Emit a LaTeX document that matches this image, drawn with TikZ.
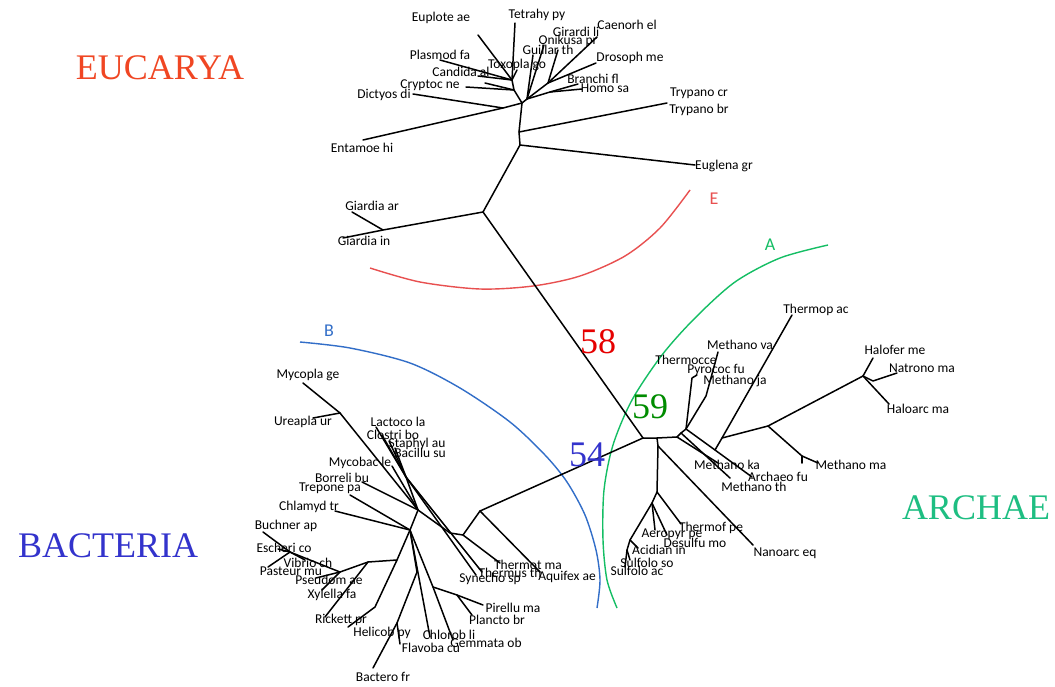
\documentclass[tikz,border=0pt]{standalone}
\usepackage{fontspec}
\newfontfamily\labfont{Carlito}
\newfontfamily\serfont{Liberation Serif}
\definecolor{eucol}{RGB}{240,70,35}
\definecolor{bacol}{RGB}{51,51,204}
\definecolor{arcol}{RGB}{30,190,130}
\definecolor{nA}{RGB}{230,0,0}
\definecolor{nB}{RGB}{0,140,0}
\definecolor{nC}{RGB}{51,51,204}
\definecolor{arcE}{RGB}{232,80,80}
\definecolor{arcA}{RGB}{20,190,100}
\definecolor{arcB}{RGB}{50,110,200}
\begin{document}
\begin{tikzpicture}[x=1pt,y=-1pt,
  br/.style={line width=1.5pt,black,line cap=round,line join=round},
  lab/.style={font=\labfont\fontsize{13.5}{14}\selectfont,inner sep=0pt},
  big/.style={font=\serfont\fontsize{36}{38}\selectfont,inner sep=0pt},
  arcline/.style={line width=1.4pt},
  arclab/.style={font=\labfont\fontsize{18}{19}\selectfont,inner sep=0pt}]
\useasboundingbox (0,0) rectangle (1055,686);
\fill[white] (0,0) rectangle (1055,686);

% ---------- big titles ----------
\node[big,text=eucol] (tEU) at (160,68) {EUCARYA};
\node[big,text=bacol] (tBA) at (108,546) {BACTERIA};
\node[big,text=arcol] (tAR) at (976,508) {ARCHAE};

% ---------- arcs ----------
\draw[arcline,arcE] plot[smooth] coordinates {(370,268) (420,282) (480,289) (533,286) (580,276) (625,256) (660,228) (690,190)};
\draw[arcline,arcA] plot[smooth] coordinates {(828,245) (780,258) (735,282) (695,318) (662,355) (632,400) (613,445) (604,490) (603,540) (607,580) (617,608)};
\draw[arcline,arcB] plot[smooth] coordinates {(300,342) (350,348) (410,363) (460,388) (510,422) (545,455) (567,482) (585,515) (596,550) (600,580) (597,608)};
\node[arclab,text=arcE] (aE) at (714,199) {E};
\node[arclab,text=arcA] (aA) at (770,245) {A};
\node[arclab,text=arcB] (aB) at (329,331) {B};

% ---------- coordinates: Eukarya ----------
\coordinate (C) at (643,438);
\coordinate (ER) at (483,212);
\coordinate (GN) at (383,230);
\coordinate (tGiar) at (352,212);
\coordinate (tGiai) at (343,238);
\coordinate (EU) at (520,145);
\coordinate (tEugl) at (695,165);
\coordinate (TR) at (519,132);
\coordinate (tTryp) at (667,103);
\coordinate (K) at (522,103);
\coordinate (D) at (503,108);
\coordinate (tEnta) at (363,140);
\coordinate (tDict) at (413,94);
\coordinate (O2) at (514,90);
\coordinate (O1) at (512,80);
\coordinate (tTetr) at (515,23);
\coordinate (tEupl) at (478,35);
\coordinate (tPlas) at (440,60);
\coordinate (tCand) at (478,76);
\coordinate (tToxo) at (517,70);
\coordinate (tCryp) at (466,87);
\coordinate (tCry2) at (485,83);
\coordinate (AN) at (527,99);
\coordinate (tGuil) at (533,55);
\coordinate (tOnik) at (544,45);
\coordinate (A0) at (548,83);
\coordinate (tCaen) at (597,37);
\coordinate (tDros) at (596,63);
\coordinate (tGira) at (558,50);
\coordinate (A1) at (550,92);
\coordinate (tBran) at (578,84);
\coordinate (tHomo) at (582,89);

% ---------- coordinates: Archaea ----------
\coordinate (AR) at (657,438);
\coordinate (AR2) at (658,446);
\coordinate (tNano) at (753,545);
\coordinate (CR0) at (657,492);
\coordinate (tTherf) at (681,524);
\coordinate (CR1) at (652,503);
\coordinate (tAero) at (655,530);
\coordinate (tDesu) at (667,535);
\coordinate (CR2) at (630,540);
\coordinate (tAcid) at (638,548);
\coordinate (CR3) at (627,550);
\coordinate (tSuso) at (630,560);
\coordinate (tSuac) at (625,567);
\coordinate (E0) at (677,437);
\coordinate (E1) at (681,433);
\coordinate (E2) at (686,429);
\coordinate (tMka) at (718,463);
\coordinate (tMth) at (730,478);
\coordinate (TP) at (715,450);
\coordinate (tArch) at (752,477);
\coordinate (T1) at (722,438);
\coordinate (tThac) at (792,315);
\coordinate (H0) at (768,426);
\coordinate (HA) at (863,376);
\coordinate (tHalo) at (873,358);
\coordinate (NA) at (873,381);
\coordinate (tNatr) at (897,373);
\coordinate (tHarc) at (889,404);
\coordinate (MM) at (802,456);
\coordinate (tMma) at (818,463);
\coordinate (MMs) at (802,463);
\coordinate (TCn) at (692,378);
\coordinate (tPyro) at (697,375);
\coordinate (MJ1) at (706,396);
\coordinate (tMva) at (718,352);

% ---------- coordinates: Bacteria ----------
\coordinate (B0) at (480,511);
\coordinate (tAqui) at (540,572);
\coordinate (B1) at (463,535);
\coordinate (tThmt) at (500,563);
\coordinate (B2) at (450,533);
\coordinate (H) at (418,510);
\coordinate (F0) at (406,477);
\coordinate (tThus) at (482,572);
\coordinate (tSyne) at (476,575);
\coordinate (tLact) at (376,427);
\coordinate (tClos) at (382,435);
\coordinate (tStap) at (389,441);
\coordinate (tBaci) at (395,448);
\coordinate (M0) at (340,413);
\coordinate (tMyco) at (303,383);
\coordinate (tUrea) at (313,418);
\coordinate (tMycb) at (392,466);
\coordinate (tBorr) at (362,482);
\coordinate (H2) at (410,530);
\coordinate (tTrep) at (350,495);
\coordinate (tChla) at (335,511);
\coordinate (P0) at (397,560);
\coordinate (P1) at (368,562);
\coordinate (G0) at (340,572);
\coordinate (G1) at (290,552);
\coordinate (tBuch) at (263,532);
\coordinate (tEsch) at (278,549);
\coordinate (tPast) at (268,567);
\coordinate (tVibr) at (305,560);
\coordinate (tPseu) at (316,578);
\coordinate (tXyle) at (322,590);
\coordinate (tRick) at (325,617);
\coordinate (HE) at (375,607);
\coordinate (tHeli) at (348,627);
\coordinate (Q0) at (417,572);
\coordinate (Q1) at (397,623);
\coordinate (tBact) at (373,668);
\coordinate (tFlav) at (400,644);
\coordinate (tChlo) at (430,637);
\coordinate (PL0) at (433,587);
\coordinate (tGemm) at (453,640);
\coordinate (PL1) at (457,595);
\coordinate (tPire) at (483,605);
\coordinate (tPlan) at (472,615);

% ---------- branches ----------
\draw[br] (C) -- (ER);
\draw[br] (C) -- (B0);
\draw[br] (C) -- (AR) -- (E0);
% Eukarya
\draw[br] (ER) -- (GN) -- (tGiar);
\draw[br] (GN) -- (tGiai);
\draw[br] (ER) -- (EU) -- (tEugl);
\draw[br] (EU) -- (TR) -- (tTryp);
\draw[br] (TR) -- (K);
\draw[br] (K) -- (D) -- (tEnta);
\draw[br] (D) -- (tDict);
\draw[br] (K) -- (O2) -- (O1);
\draw[br] (O2) -- (tCryp);
\draw[br] (O2) -- (tCry2);
\draw[br] (O1) -- (tTetr);
\draw[br] (O1) -- (tEupl);
\draw[br] (O1) -- (tPlas);
\draw[br] (O1) -- (tCand);
\draw[br] (O1) -- (tToxo);
\draw[br] (K) -- (AN) -- (tGuil);
\draw[br] (AN) -- (tOnik);
\draw[br] (AN) -- (A0) -- (tCaen);
\draw[br] (A0) -- (tDros);
\draw[br] (A0) -- (tGira);
\draw[br] (AN) -- (A1) -- (tBran);
\draw[br] (A1) -- (tHomo);
% Archaea
\draw[br] (AR) -- (AR2) -- (CR0);
\draw[br] (AR2) -- (tNano);
\draw[br] (CR0) -- (tTherf);
\draw[br] (CR0) -- (CR1) -- (tAero);
\draw[br] (CR1) -- (tDesu);
\draw[br] (CR1) -- (CR2) -- (tAcid);
\draw[br] (CR2) -- (CR3) -- (tSuso);
\draw[br] (CR3) -- (tSuac);
\draw[br] (E0) -- (E1) -- (E2);
\draw[br] (E0) -- (tMka);
\draw[br] (E1) -- (tMth);
\draw[br] (E2) -- (TP) -- (tArch);
\draw[br] (TP) -- (T1) -- (tThac);
\draw[br] (T1) -- (H0) -- (HA) -- (tHalo);
\draw[br] (HA) -- (NA) -- (tNatr);
\draw[br] (HA) -- (tHarc);
\draw[br] (H0) -- (MM) -- (tMma);
\draw[br] (MM) -- (MMs);
\draw[br] (E2) -- (TCn) -- (tPyro);
\draw[br] (E2) -- (MJ1) -- (tMva);
% Bacteria
\draw[br] (B0) -- (tAqui);
\draw[br] (B0) -- (B1) -- (tThmt);
\draw[br] (B1) -- (B2) -- (H);
\draw[br] (H) -- (F0);
\draw[br] (F0) -- (tThus);
\draw[br] (F0) -- (tSyne);
\draw[br] (F0) -- (tLact);
\draw[br] (F0) -- (tClos);
\draw[br] (F0) -- (tStap);
\draw[br] (F0) -- (tBaci);
\draw[br] (H) -- (M0) -- (tMyco);
\draw[br] (M0) -- (tUrea);
\draw[br] (H) -- (tMycb);
\draw[br] (H) -- (tBorr);
\draw[br] (H) -- (H2);
\draw[br] (H2) -- (tTrep);
\draw[br] (H2) -- (tChla);
\draw[br] (H2) -- (P0) -- (P1) -- (G0) -- (G1) -- (tBuch);
\draw[br] (G1) -- (tEsch);
\draw[br] (G1) -- (tPast);
\draw[br] (G1) -- (tVibr);
\draw[br] (G0) -- (tPseu);
\draw[br] (G0) -- (tXyle);
\draw[br] (P1) -- (tRick);
\draw[br] (P0) -- (HE) -- (tHeli);
\draw[br] (H2) -- (Q0) -- (Q1) -- (tBact);
\draw[br] (Q1) -- (tFlav);
\draw[br] (H2) -- (tChlo);
\draw[br] (H2) -- (PL0) -- (tGemm);
\draw[br] (PL0) -- (PL1) -- (tPire);
\draw[br] (PL1) -- (tPlan);

% ---------- taxon labels: Eukarya ----------
\node[lab] (lEupl) at (441,18) {Euplote ae};
\node[lab] (lTetr) at (537,15) {Tetrahy py};
\node[lab] (lCaen) at (627,25) {Caenorh el};
\node[lab] (lGira) at (576,32) {Girardi li};
\node[lab] (lOnik) at (568,41) {Onikusa pr};
\node[lab] (lGuil) at (548,50) {Guillar th};
\node[lab] (lDros) at (630,58) {Drosoph me};
\node[lab] (lPlas) at (440,55) {Plasmod fa};
\node[lab] (lToxo) at (517,65) {Toxopla go};
\node[lab] (lCand) at (461,72) {Candida al};
\node[lab] (lBran) at (593,79) {Branchi fl};
\node[lab] (lCryp) at (430,85) {Cryptoc ne};
\node[lab] (lHomo) at (605,88) {Homo sa};
\node[lab] (lDict) at (384,95) {Dictyos di};
\node[lab] (lTrcr) at (699,93) {Trypano cr};
\node[lab] (lTrbr) at (699,110) {Trypano br};
\node[lab] (lEnta) at (362,148) {Entamoe hi};
\node[lab] (lEugl) at (724,166) {Euglena gr};
\node[lab] (lGiar) at (372,206) {Giardia ar};
\node[lab] (lGiai) at (364,241) {Giardia in};

% ---------- taxon labels: Archaea ----------
\node[lab] (lThac) at (816,310) {Thermop ac};
\node[lab] (lMva) at (740,345) {Methano va};
\node[lab] (lHalo) at (895,350) {Halofer me};
\node[lab] (lThcc) at (686,360) {Thermocce};
\node[lab] (lNatr) at (922,368) {Natrono ma};
\node[lab] (lPyro) at (716,370) {Pyrococ fu};
\node[lab] (lMja) at (735,381) {Methano ja};
\node[lab] (lHarc) at (918,409) {Haloarc ma};
\node[lab] (lMka) at (727,465) {Methano ka};
\node[lab] (lMma) at (851,465) {Methano ma};
\node[lab] (lArch) at (778,477) {Archaeo fu};
\node[lab] (lMth) at (754,487) {Methano th};
\node[lab] (lTherf) at (711,528) {Thermof pe};
\node[lab] (lAero) at (672,534) {Aeropyr pe};
\node[lab] (lDesu) at (695,543) {Desulfu mo};
\node[lab] (lAcid) at (659,550) {Acidian in};
\node[lab] (lNano) at (785,553) {Nanoarc eq};
\node[lab] (lSuso) at (647,563) {Sulfolo so};
\node[lab] (lSuac) at (637,571) {Sulfolo ac};

% ---------- taxon labels: Bacteria ----------
\node[lab] (lMyco) at (308,375) {Mycopla ge};
\node[lab] (lUrea) at (303,422) {Ureapla ur};
\node[lab] (lLact) at (398,422) {Lactoco la};
\node[lab] (lClos) at (393,435) {Clostri bo};
\node[lab] (lStap) at (417,444) {Staphyl au};
\node[lab] (lBaci) at (420,453) {Bacillu su};
\node[lab] (lMycb) at (360,463) {Mycobac le};
\node[lab] (lBorr) at (342,478) {Borreli bu};
\node[lab] (lTrep) at (330,488) {Trepone pa};
\node[lab] (lChla) at (309,507) {Chlamyd tr};
\node[lab] (lBuch) at (286,526) {Buchner ap};
\node[lab] (lEsch) at (284,548) {Escheri co};
\node[lab] (lVibr) at (308,563) {Vibrio ch};
\node[lab] (lPast) at (291,571) {Pasteur mu};
\node[lab] (lPseu) at (329,580) {Pseudom ae};
\node[lab] (lXyle) at (332,595) {Xylella fa};
\node[lab] (lRick) at (341,620) {Rickett pr};
\node[lab] (lHeli) at (382,633) {Helicob py};
\node[lab] (lFlav) at (431,648) {Flavoba cu};
\node[lab] (lChlo) at (449,635) {Chlorob li};
\node[lab] (lGemm) at (486,643) {Gemmata ob};
\node[lab] (lPire) at (513,608) {Pirellu ma};
\node[lab] (lPlan) at (497,620) {Plancto br};
\node[lab] (lBact) at (383,677) {Bactero fr};
\node[lab] (lThmt) at (528,565) {Thermot ma};
\node[lab] (lThus) at (510,573) {Thermus th};
\node[lab] (lSyne) at (490,579) {Synecho sp};
\node[lab] (lAqui) at (567,577) {Aquifex ae};

% ---------- support values ----------
\node[big,text=nA] (n58) at (598,342) {58};
\node[big,text=nB] (n59) at (650,407) {59};
\node[big,text=nC] (n54) at (587,455) {54};
\end{tikzpicture}
\end{document}
